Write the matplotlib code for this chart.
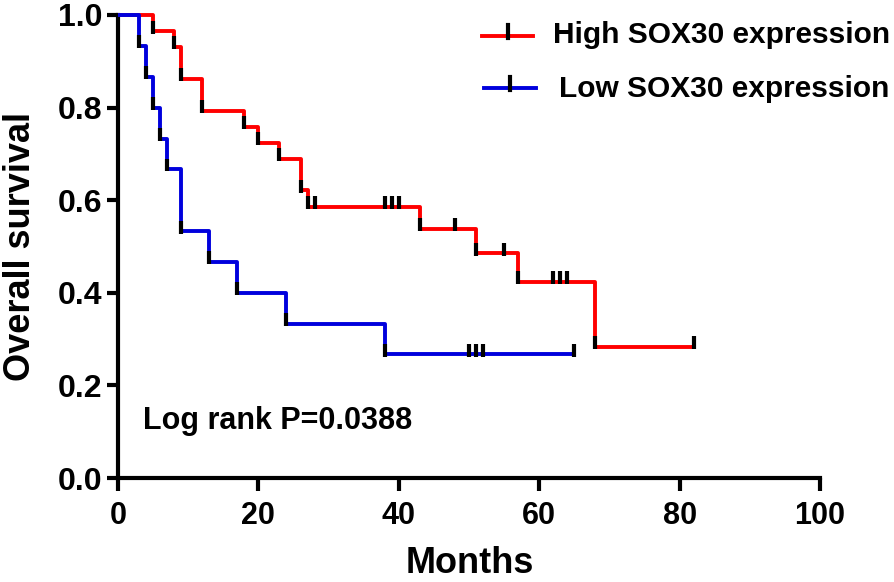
import matplotlib
matplotlib.use("Agg")
import matplotlib.pyplot as plt
from matplotlib.lines import Line2D
import numpy as np

plt.rcParams['font.family'] = ['Liberation Sans', 'DejaVu Sans']
plt.rcParams['font.weight'] = 'bold'

# High SOX30 expression (red)
high_times = [0, 5, 8, 9, 12, 18, 20, 23, 26, 27, 43, 51, 57, 68]
high_surv = [1.0, 0.965, 0.931, 0.862, 0.793, 0.759, 0.724, 0.690, 0.621, 0.586, 0.538, 0.485, 0.424, 0.283]
high_end = 82
high_censor = [28, 38, 39, 40, 48, 55, 62, 63, 64, 82]

# Low SOX30 expression (blue)
low_times = [0, 3, 4, 5, 6, 7, 9, 13, 17, 24, 38]
low_surv = [1.0, 0.933, 0.867, 0.800, 0.733, 0.667, 0.533, 0.467, 0.400, 0.333, 0.267]
low_end = 65
low_censor = [50, 51, 52, 65]

xticks = [0, 20, 40, 60, 80, 100]
yticks = [0.0, 0.2, 0.4, 0.6, 0.8, 1.0]
labels = ["High SOX30 expression", "Low SOX30 expression"]

W, H = 894, 582
fig = plt.figure(figsize=(W/100, H/100), dpi=100)
ax = fig.add_axes([118/W, 1-478/H, (820-118)/W, (478-15)/H])

def level_at(times, surv, t):
    idx = np.searchsorted(times, t, side='right') - 1
    return surv[idx]

def draw(times, surv, end, censor, color):
    xs = list(times) + [end]
    ys = list(surv) + [surv[-1]]
    ax.step(xs, ys, where='post', color=color, lw=2.8, clip_on=False,
            solid_capstyle='butt', zorder=3)
    ev_x = list(times[1:])
    ev_y = list(surv[1:])
    c_y = [level_at(times, surv, c) for c in censor]
    mx = ev_x + list(censor)
    my = np.array(ev_y + c_y)
    ax.vlines(mx, my - 0.005, my + 0.023, color='black', lw=3.0, zorder=4,
              clip_on=False)

draw(high_times, high_surv, high_end, high_censor, '#ff0000')
draw(low_times, low_surv, low_end, low_censor, '#0000dd')

ax.set_xlim(0, 100)
ax.set_ylim(0, 1.0)
ax.set_xticks(xticks)
ax.set_yticks(yticks)
ax.set_xticklabels([str(v) for v in xticks], fontsize=22, fontweight='bold')
ax.set_yticklabels([f"{v:.1f}" for v in yticks], fontsize=23, fontweight='bold')
ax.spines['top'].set_visible(False)
ax.spines['right'].set_visible(False)
for s in ['left', 'bottom']:
    ax.spines[s].set_linewidth(3.0)
ax.tick_params(axis='y', width=3.0, length=8, direction='out', pad=3)
ax.tick_params(axis='x', width=3.0, length=9.5, direction='out', pad=7)

fig.text(470/W, 1-573/H, "Months", ha='center', va='baseline', fontsize=26,
         fontweight='bold')
fig.text(21/W, 1-246/H, "Overall survival", ha='center', va='center',
         rotation=90, fontsize=26, fontweight='bold')
fig.text(143/W, 1-429/H, "Log rank P=0.0388", ha='left', va='baseline',
         fontsize=22, fontweight='bold')

# legend
for (y, base, c, x0, x1, tx), lab in zip(
        [(36, 43, '#ff0000', 482, 533, 553), (88, 97, '#0000dd', 484, 536, 559)], labels):
    fy = 1 - y/H
    fig.add_artist(Line2D([x0/W, x1/W], [fy, fy], color=c, lw=2.8,
                          transform=fig.transFigure))
    xm = (x0 + x1) / 2 / W
    fig.add_artist(Line2D([xm, xm], [fy - 2/H, fy + 11/H], color='black',
                          lw=3.0, transform=fig.transFigure))
    fig.text(tx/W, 1 - base/H, lab, ha='left', va='baseline', fontsize=21.5,
             fontweight='bold')

fig.savefig("out.png", dpi=100)
